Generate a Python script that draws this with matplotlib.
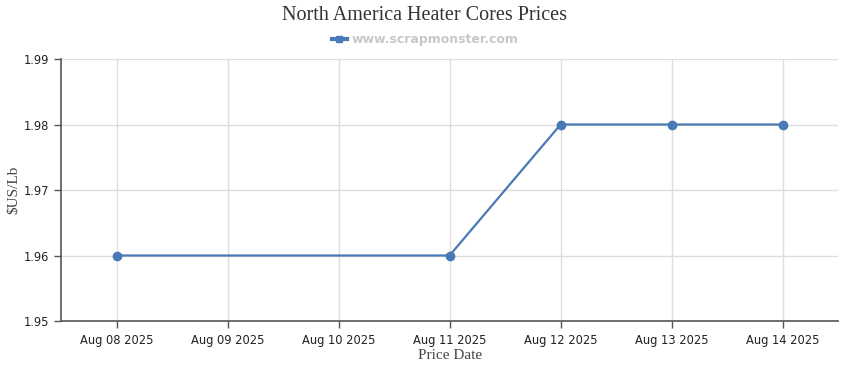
import matplotlib
matplotlib.use("Agg")
import matplotlib.pyplot as plt
from matplotlib.lines import Line2D

categories = ["Aug 08 2025", "Aug 09 2025", "Aug 10 2025", "Aug 11 2025",
              "Aug 12 2025", "Aug 13 2025", "Aug 14 2025"]
point_dates = ["Aug 08 2025", "Aug 11 2025", "Aug 12 2025", "Aug 13 2025", "Aug 14 2025"]
point_values = [1.96, 1.96, 1.98, 1.98, 1.98]
y_ticks = [1.95, 1.96, 1.97, 1.98, 1.99]

color = "#4a7ab5"
fig = plt.figure(figsize=(8.5, 3.7), dpi=100)
ax = fig.add_axes([0.0718, 0.1324, 0.9142, 0.7081])

xs = [categories.index(d) for d in point_dates]
ax.plot(xs, point_values, color=color, lw=1.6, marker="o", ms=6, zorder=3)

ax.set_xlim(-0.5, len(categories) - 0.5)
ax.set_ylim(1.95, 1.99)
ax.set_xticks(range(len(categories)))
ax.set_xticklabels(categories)
ax.set_yticks(y_ticks)
ax.set_yticklabels([f"{v:.2f}" for v in y_ticks])
ax.grid(True, color="#dddddd", lw=1)
ax.set_axisbelow(True)
for s in ["top", "right"]:
    ax.spines[s].set_visible(False)
for s in ["left", "bottom"]:
    ax.spines[s].set_color("#555555")
    ax.spines[s].set_linewidth(1.2)
ax.tick_params(axis="both", colors="#555555", length=5, width=1, labelsize=8.3,
               labelcolor="#222222")
ax.tick_params(axis="x", pad=4)

serif = ["Liberation Serif", "DejaVu Serif"]
ax.set_xlabel("Price Date", family=serif, fontsize=11, color="#444444")
ax.set_ylabel("\\$US/Lb", family=serif, fontsize=11, color="#444444")
ax.xaxis.set_label_coords(0.5, -0.105)
ax.yaxis.set_label_coords(-0.052, 0.5)
fig.text(0.5, 0.957, "North America Heater Cores Prices", family=serif, fontsize=14.5,
         color="#333333", ha="center", va="center")

handle = Line2D([], [], color=color, lw=3, marker="s", ms=5)
leg = fig.legend([handle], ["www.scrapmonster.com"], loc="center", bbox_to_anchor=(0.5, 0.893),
                 frameon=False, handlelength=1.2, handletextpad=0.4,
                 prop={"weight": "bold", "size": 9})
for t in leg.get_texts():
    t.set_color("#c8c8c8")

fig.savefig("out.png", dpi=100)
